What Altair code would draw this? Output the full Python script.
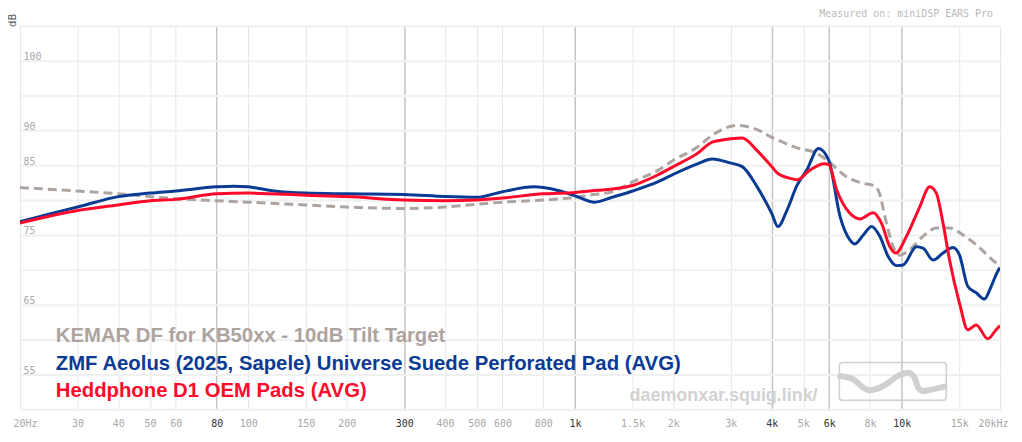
import altair as alt
import pandas as pd

# ---- data ----
TARGET_F = [20, 30, 40, 50, 60, 80, 100, 150, 200, 300, 400, 500, 600, 800, 1000, 1100, 1300, 1500, 1800, 2000,
            2370, 2630, 3130, 3610, 4000, 4180, 4780, 5500, 5980, 6790, 7630, 8180, 8480, 8980, 9420, 9860,
            10580, 11620, 12760, 14010, 15400, 16900, 19450, 20000]
TARGET_DB = [81.8, 81.3, 80.9, 80.5, 80.2, 79.9, 79.7, 79.3, 79.0, 78.8, 79.0, 79.4, 79.7, 80.0, 80.4, 80.7, 81.2, 82.6, 84.3, 85.7,
             87.6, 89.3, 90.7, 90.1, 89.0, 88.6, 87.5, 86.7, 85.5, 83.3, 82.4, 82.1, 81.4, 76.7, 73.3, 72.1,
             72.9, 74.8, 76.0, 76.0, 75.0, 73.6, 71.0, 70.6]

BLUE_F = [20, 25, 30, 40, 50, 60, 80, 90, 100, 120, 150, 200, 300, 400, 500, 600, 750, 800, 900, 1000, 1150, 1300,
          1500, 1790, 2000, 2370, 2630, 3000, 3250, 3610, 4000, 4180, 4450, 4780, 5120, 5560, 5980, 6480, 6940,
          7190, 7630, 8090, 8570, 9090, 9640, 10100, 11090, 11620, 12470, 13380, 14350, 15030, 15940, 16900,
          17910, 18780, 19680, 20000]
BLUE_DB = [76.9, 78.1, 79.0, 80.5, 81.0, 81.3, 81.9, 82.0, 81.9, 81.3, 81.0, 80.9, 80.8, 80.5, 80.4, 81.2, 81.9, 81.8, 81.3, 80.6, 79.7, 80.4,
           81.3, 82.6, 83.7, 85.2, 85.9, 85.3, 84.8, 81.9, 78.1, 76.2, 78.5, 82.1, 84.3, 87.4, 85.7, 77.6, 74.3,
           73.7, 75.0, 76.2, 74.8, 71.9, 70.6, 70.7, 73.3, 73.1, 71.4, 72.4, 73.2, 72.1, 67.6, 66.7,
           65.8, 67.6, 69.8, 70.3]

RED_F = [20, 30, 40, 50, 60, 80, 100, 150, 200, 300, 400, 500, 600, 800, 1000, 1170, 1300, 1500, 1790, 2000, 2370,
         2630, 3000, 3250, 3610, 4000, 4180, 4670, 4780, 5240, 5790, 5980, 6330, 6940, 7450, 8180, 8670, 9200,
         9590, 10340, 11350, 12180, 12760, 13380, 14010, 15030, 15940, 16900, 18350, 19450, 20000]
RED_DB = [76.7, 78.5, 79.3, 79.9, 80.1, 80.9, 81.0, 80.7, 80.5, 80.0, 79.9, 80.0, 80.3, 80.9, 81.1, 81.4, 81.6, 82.1, 83.6, 84.8, 86.7,
          88.3, 88.8, 88.9, 87.1, 84.8, 83.8, 83.0, 82.9, 84.3, 85.2, 85.1, 81.4, 78.1, 77.3, 78.2, 76.7, 73.3,
          72.4, 74.8, 79.0, 81.9, 81.0, 76.7, 71.4, 65.2, 61.4, 62.1, 60.1, 61.4, 62.0]

NAMES = ["KEMAR DF for KB50xx - 10dB Tilt Target",
         "ZMF Aeolus (2025, Sapele) Universe Suede Perforated Pad (AVG)",
         "Heddphone D1 OEM Pads (AVG)"]
COLORS = ["#ada4a0", "#0a3b94", "#ff0a2a"]

X_TICKS = [20, 30, 40, 50, 60, 80, 100, 150, 200, 300, 400, 500, 600, 800, 1000, 1500, 2000, 3000, 4000, 5000,
           6000, 8000, 10000, 15000, 20000]
STRONG_TICKS = [80, 300, 1000, 4000, 6000, 10000]
Y_TICKS = list(range(50, 106, 5))
Y_LABELED = [100, 90, 85, 75, 65, 55]

# watermark logo (decoration) in frequency / dB space
LOGO_F = [6475, 7110, 7628, 7990, 8778, 9864, 10462, 10958, 11224, 11624, 12470, 13528]
LOGO_DB = [54.76, 54.29, 53.10, 52.71, 53.33, 54.90, 55.24, 54.53, 53.10, 52.61, 52.86, 53.24]
LOGO_BOX_F = [6446, 13692]
LOGO_BOX_DB = [51.29, 56.71]

strong = "indexof(" + str(STRONG_TICKS) + ", datum.value) >= 0"

x_scale = alt.Scale(type="log", domain=[20, 20000], nice=False)
y_scale = alt.Scale(domain=[50, 105], nice=False, zero=False)

x_axis = alt.Axis(
    values=X_TICKS, tickCount=40,
    labelExpr="datum.value == 20 ? '20Hz' : datum.value == 20000 ? '20kHz' : "
              "datum.value >= 1000 ? (datum.value / 1000) + 'k' : datum.value + ''",
    grid=True,
    gridColor={"condition": {"test": strong, "value": "#c4c4c4"}, "value": "#e8e8e8"},
    gridWidth={"condition": {"test": strong, "value": 1.5}, "value": 1},
    labelColor={"condition": {"test": strong, "value": "#333333"}, "value": "#a8a8a8"},
    labelOffset={"condition": [{"test": "datum.value == 20", "value": 5},
                               {"test": "datum.value == 20000", "value": -7}], "value": 0},
    ticks=False, domain=False, labelOverlap=False, labelFlush=False,
    labelFont="DejaVu Sans Mono", labelFontSize=10, labelPadding=9, title=None,
)
y_axis = alt.Axis(
    values=Y_TICKS, tickCount=30,
    labelExpr="indexof(" + str(Y_LABELED) + ", datum.value) >= 0 ? datum.label : ''",
    grid=True, gridColor="#f0f0f0", gridWidth=2,
    ticks=False, tickSize=0, domain=False, labelOverlap=False,
    labelAlign="left", labelPadding=-3, labelBaseline="alphabetic", labelOffset=-1,
    labelFont="DejaVu Sans Mono", labelFontSize=10, labelColor="#aaaaaa",
    title="dB", titleAngle=270, titleX=-7, titleY=-6, titleFont="DejaVu Sans",
    titleFontSize=10, titleFontWeight="normal", titleColor="#555555",
    titleAlign="center", titleBaseline="middle",
)


def curve(freqs, dbs, color, dash=None):
    df = pd.DataFrame({"f": freqs, "db": dbs})
    kw = dict(color=color, strokeWidth=3, interpolate="monotone", clip=True)
    if dash:
        kw["strokeDash"] = dash
    return alt.Chart(df).mark_line(**kw).encode(
        x=alt.X("f:Q", scale=x_scale, axis=x_axis),
        y=alt.Y("db:Q", scale=y_scale, axis=y_axis),
    )


logo_line = alt.Chart(pd.DataFrame({"f": LOGO_F, "db": LOGO_DB})).mark_line(
    color="#d0d0d0", strokeWidth=6, interpolate="monotone", strokeCap="round"
).encode(x=alt.X("f:Q", scale=x_scale), y=alt.Y("db:Q", scale=y_scale))

logo_box = alt.Chart(pd.DataFrame({"f": [LOGO_BOX_F[0]], "f2": [LOGO_BOX_F[1]],
                                   "db": [LOGO_BOX_DB[0]], "db2": [LOGO_BOX_DB[1]]})).mark_rect(
    fill=None, stroke="#d0d0d0", strokeWidth=1.5, cornerRadius=3
).encode(x=alt.X("f:Q", scale=x_scale), x2="f2:Q", y=alt.Y("db:Q", scale=y_scale), y2="db2:Q")


def text_layer(txt, x, y, color, size, font, weight="bold", align="left", baseline="alphabetic"):
    return alt.Chart(pd.DataFrame({"t": [txt]})).mark_text(
        x=x, y=y, align=align, baseline=baseline, color=color, fontSize=size,
        font=font, fontWeight=weight
    ).encode(text="t:N")


watermark = text_layer("daemonxar.squig.link/", 612, 376.5, "#d2d2d2", 18, "Liberation Sans")
measured = text_layer("Measured on: miniDSP EARS Pro", 977, -12, "#bbbbbb", 10, "DejaVu Sans Mono",
                      weight="normal", align="right", baseline="middle")
legend = [text_layer(NAMES[i], 36, 317.5 + 27.7 * i, COLORS[i], 20.4, "Liberation Sans") for i in range(3)]

chart = alt.layer(
    curve(TARGET_F, TARGET_DB, COLORS[0], dash=[9, 5]),
    curve(BLUE_F, BLUE_DB, COLORS[1]),
    curve(RED_F, RED_DB, COLORS[2]),
    logo_box, logo_line, watermark, measured, *legend,
).properties(
    width=984, height=385, autosize="none",
    padding={"left": 12, "top": 17, "right": 14, "bottom": 24},
).configure_view(stroke=None).configure(background="white")

chart.save("out.html", embed_options={"renderer": "svg", "actions": False})
